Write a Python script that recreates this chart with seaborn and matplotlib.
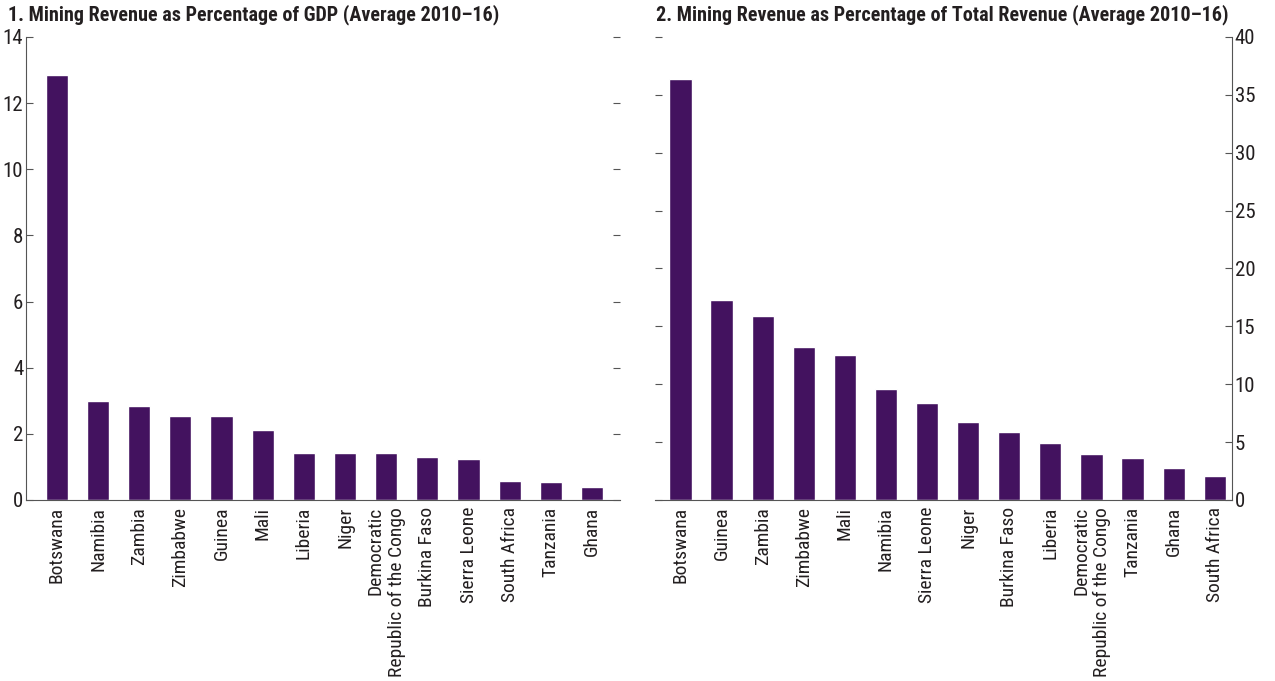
import numpy as np
import pandas as pd
import seaborn as sns
import matplotlib.pyplot as plt
from matplotlib.ticker import FixedLocator, MultipleLocator

# panel 1: mining revenue, % of GDP
gdp_countries = ['Botswana', 'Namibia', 'Zambia', 'Zimbabwe', 'Guinea', 'Mali', 'Liberia',
                 'Niger', 'Democratic\nRepublic of the Congo', 'Burkina Faso', 'Sierra Leone',
                 'South Africa', 'Tanzania', 'Ghana']
gdp_values = [12.85, 3.0, 2.85, 2.55, 2.55, 2.12, 1.42, 1.42, 1.42, 1.30, 1.24, 0.58, 0.54, 0.39]

# panel 2: mining revenue, % of total revenue
rev_countries = ['Botswana', 'Guinea', 'Zambia', 'Zimbabwe', 'Mali', 'Namibia', 'Sierra Leone',
                 'Niger', 'Burkina Faso', 'Liberia', 'Democratic\nRepublic of the Congo',
                 'Tanzania', 'Ghana', 'South Africa']
rev_values = [36.4, 17.3, 15.85, 13.25, 12.55, 9.6, 8.4, 6.75, 5.9, 4.95, 4.0, 3.65, 2.8, 2.1]

titles = ['1. Mining Revenue as Percentage of GDP (Average 2010\u201316)',
          '2. Mining Revenue as Percentage of Total Revenue (Average 2010\u201316)']

bar_color = '#43125f'
axis_color = '#555555'
text_color = '#231f20'

sns.set_style('white')
plt.rcParams['font.family'] = ['Roboto Condensed', 'IBM Plex Sans Condensed', 'DejaVu Sans']

fig = plt.figure(figsize=(12.75, 6.81), dpi=100)
ax1 = fig.add_axes([0.0204, 0.2658, 0.4659, 0.68])
ax2 = fig.add_axes([0.5137, 0.2658, 0.4526, 0.68])

df1 = pd.DataFrame({'country': gdp_countries, 'value': gdp_values})
df2 = pd.DataFrame({'country': rev_countries, 'value': rev_values})

sns.barplot(data=df1, x='country', y='value', color=bar_color, width=0.54,
            saturation=1, ax=ax1)
sns.barplot(data=df2, x='country', y='value', color=bar_color, width=0.54,
            saturation=1, ax=ax2)

for ax, n in [(ax1, len(gdp_countries)), (ax2, len(rev_countries))]:
    ax.set_xlabel('')
    ax.set_ylabel('')
    ax.set_xticks(range(n))
    ax.xaxis.set_minor_locator(FixedLocator(np.arange(-0.5, n, 1.0)))
    ax.tick_params(axis='x', which='major', length=0, pad=5, labelsize=14,
                   labelcolor=text_color)
    ax.tick_params(axis='x', which='minor', direction='in', length=5,
                   color=axis_color, width=1)
    for lab in ax.get_xticklabels():
        lab.set_rotation(90)
        lab.set_va('top')
        lab.set_ha('center')
        lab.set_multialignment('right')
    ax.spines['top'].set_visible(False)
    ax.spines['bottom'].set_color(axis_color)
    ax.set_facecolor('white')

# left panel axes
ax1.set_xlim(-0.75, 13.68)
ax1.set_ylim(0, 14)
ax1.yaxis.set_major_locator(MultipleLocator(2))
ax1.spines['right'].set_visible(False)
ax1.spines['left'].set_color(axis_color)
ax1.tick_params(axis='y', direction='in', length=5, color=axis_color,
                left=True, right=True, labelleft=True, labelright=False,
                labelsize=15, labelcolor=text_color, pad=2)

# right panel axes
ax2.set_xlim(-0.62, 13.42)
ax2.set_ylim(0, 40)
ax2.yaxis.set_major_locator(MultipleLocator(5))
ax2.spines['left'].set_visible(False)
ax2.spines['right'].set_color(axis_color)
ax2.tick_params(axis='y', direction='in', length=5, color=axis_color,
                left=True, right=True, labelleft=False, labelright=True,
                labelsize=15, labelcolor=text_color, pad=2)

fig.text(0.006, 0.978, titles[0], fontsize=14.5, fontweight='bold',
         color=text_color, va='center', ha='left')
fig.text(0.5145, 0.978, titles[1], fontsize=14.5, fontweight='bold',
         color=text_color, va='center', ha='left')

fig.savefig('out.png', dpi=100, facecolor='white')
